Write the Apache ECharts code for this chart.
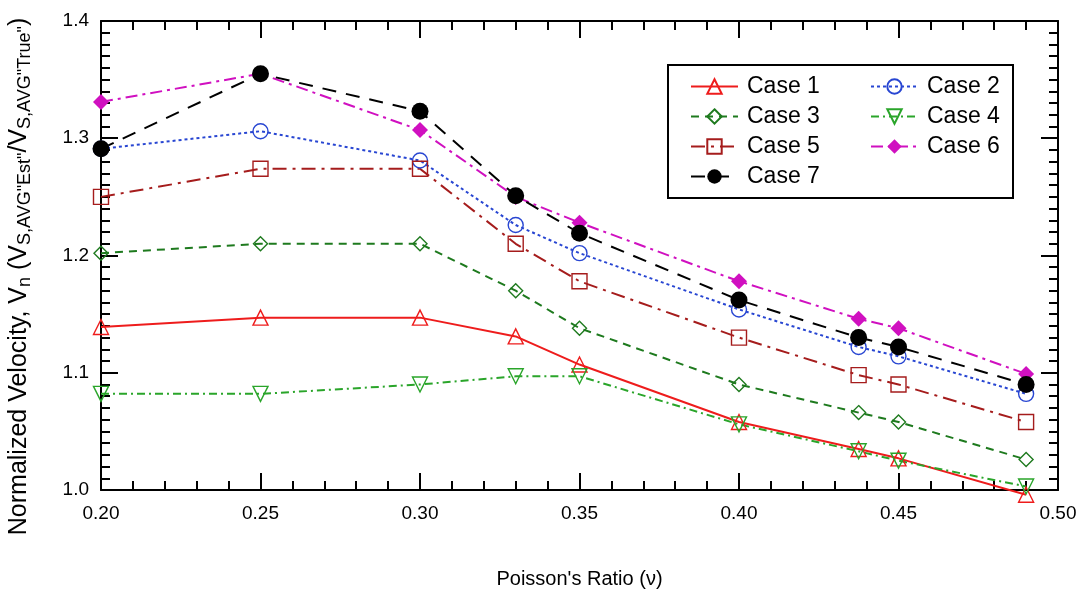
<!DOCTYPE html>
<html>
<head>
<meta charset="utf-8">
<script src="https://cdn.jsdelivr.net/npm/echarts@6/dist/echarts.min.js"></script>
<style>
  html, body { margin: 0; padding: 0; background: #fff; }
  #chart { width: 1088px; height: 600px; }
</style>
</head>
<body>
<div id="chart"></div>
<script>
// Poisson's ratio values (x)
const nu = [0.20, 0.25, 0.30, 0.33, 0.35, 0.40, 0.4375, 0.45, 0.49]

// normalized velocity per case
const case1 = [1.139, 1.147, 1.147, 1.131, 1.107, 1.058, 1.035, 1.027, 0.996]
const case2 = [1.291, 1.306, 1.281, 1.226, 1.202, 1.154, 1.122, 1.114, 1.082]
const case3 = [1.202, 1.210, 1.210, 1.170, 1.138, 1.090, 1.066, 1.058, 1.026]
const case4 = [1.082, 1.082, 1.090, 1.097, 1.097, 1.056, 1.033, 1.025, 1.003]
const case5 = [1.250, 1.274, 1.274, 1.210, 1.178, 1.130, 1.098, 1.090, 1.058]
const case6 = [1.331, 1.355, 1.307, 1.250, 1.228, 1.178, 1.146, 1.138, 1.099]
const case7 = [1.291, 1.355, 1.323, 1.251, 1.219, 1.162, 1.130, 1.122, 1.090]

const xTicks = ['0.20', '0.25', '0.30', '0.35', '0.40', '0.45', '0.50']
const yTicks = ['1.0', '1.1', '1.2', '1.3', '1.4']

const FONT = 'Liberation Sans, Arial, sans-serif'

const toPoints = (vals) => nu.map((x, i) => [x, vals[i]])

// hollow markers: transparent fill, coloured border
const makeSeries = (name, vals, color, dash, symbol, size, opts = {}) => ({
  name,
  type: 'line',
  data: toPoints(vals),
  clip: false,
  symbol,
  symbolSize: size,
  symbolRotate: opts.rotate || 0,
  showAllSymbol: true,
  lineStyle: { color, width: opts.lineWidth || 2, type: dash },
  itemStyle: opts.filled
    ? { color, borderColor: color, borderWidth: 0 }
    : { color: 'rgba(255,255,255,0)', borderColor: color, borderWidth: 1.4 },
  emphasis: { disabled: true },
})

const chart = echarts.init(document.getElementById('chart'))

const tickLabelStyle = { color: '#000', fontSize: 19, fontFamily: FONT }

const baseX = {
  type: 'value',
  min: 0.2,
  max: 0.5,
  interval: 0.05,
  axisLine: { lineStyle: { color: '#000', width: 2 } },
  axisTick: { inside: true, length: 17, lineStyle: { color: '#000', width: 2 } },
  minorTick: { show: true, splitNumber: 5, length: 9, lineStyle: { color: '#000', width: 2 } },
  splitLine: { show: false },
}
const baseY = {
  type: 'value',
  min: 1.0,
  max: 1.4,
  interval: 0.1,
  axisLine: { lineStyle: { color: '#000', width: 2 } },
  axisTick: { inside: true, length: 17, lineStyle: { color: '#000', width: 2 } },
  minorTick: { show: true, splitNumber: 10, length: 9, lineStyle: { color: '#000', width: 2 } },
  splitLine: { show: false },
}

const legendText = { color: '#000', fontSize: 23, fontFamily: FONT, lineHeight: 20, padding: [0, 0, 0, 4] }

chart.setOption({
  animation: false,
  backgroundColor: '#fff',
  grid: { left: 101, right: 30, top: 21, bottom: 110, outerBoundsMode: 'none' },
  xAxis: [
    {
      ...baseX,
      position: 'bottom',
      axisLabel: {
        ...tickLabelStyle,
        margin: 14,
        formatter: (v) => xTicks.find((t) => Math.abs(parseFloat(t) - v) < 1e-6) || '',
      },
      name: "Poisson's Ratio (ν)",
      nameLocation: 'middle',
      nameGap: 79,
      nameTextStyle: { color: '#000', fontSize: 20, fontFamily: FONT },
    },
    { ...baseX, position: 'top', axisLabel: { show: false } },
  ],
  yAxis: [
    {
      ...baseY,
      position: 'left',
      axisLabel: {
        ...tickLabelStyle,
        margin: 12,
        formatter: (v) => yTicks.find((t) => Math.abs(parseFloat(t) - v) < 1e-6) || '',
      },
      name: 'Normalized Velocity, V{s|n} (V{s|S,AVG"Est"}/V{s|S,AVG"True"})',
      nameLocation: 'middle',
      nameRotate: 90,
      nameGap: 67,
      nameTextStyle: {
        color: '#000',
        fontSize: 25,
        fontFamily: FONT,
        padding: [0, 42, 0, 0],
        rich: {
          s: { fontSize: 18, fontFamily: FONT, color: '#000', verticalAlign: 'bottom', padding: [11, 0, 0, 0] },
        },
      },
    },
    { ...baseY, position: 'right', axisLabel: { show: false } },
  ],
  legend: [
    {
      data: ['Case 1', 'Case 3', 'Case 5', 'Case 7'],
      orient: 'vertical',
      left: 690,
      top: 75,
      padding: 0,
      itemWidth: 47,
      itemHeight: 18,
      itemGap: 7,
      textStyle: legendText,
    },
    {
      data: ['Case 2', 'Case 4', 'Case 6'],
      orient: 'vertical',
      left: 870,
      top: 75,
      padding: 0,
      itemWidth: 47,
      itemHeight: 18,
      itemGap: 7,
      textStyle: legendText,
    },
  ],
  graphic: [
    {
      type: 'rect',
      left: 667,
      top: 64,
      shape: { width: 345, height: 133 },
      style: { fill: 'rgba(0,0,0,0)', stroke: '#000', lineWidth: 2 },
      z: 100,
    },
  ],
  series: [
    makeSeries('Case 1', case1, '#ee1c1c', 'solid', 'triangle', 15),
    makeSeries('Case 2', case2, '#2846d2', [3, 3], 'circle', 15),
    makeSeries('Case 3', case3, '#1e7a1e', [8, 6], 'diamond', 14),
    makeSeries('Case 4', case4, '#2aa52a', [8, 4, 2, 4], 'triangle', 15, { rotate: 180 }),
    makeSeries('Case 5', case5, '#a51c1c', [14, 6, 3, 6], 'rect', 15),
    makeSeries('Case 6', case6, '#d010c0', [12, 5, 3, 5], 'diamond', 16, { filled: true }),
    makeSeries('Case 7', case7, '#000000', [14, 10], 'circle', 17, { filled: true }),
  ],
})
</script>
</body>
</html>
